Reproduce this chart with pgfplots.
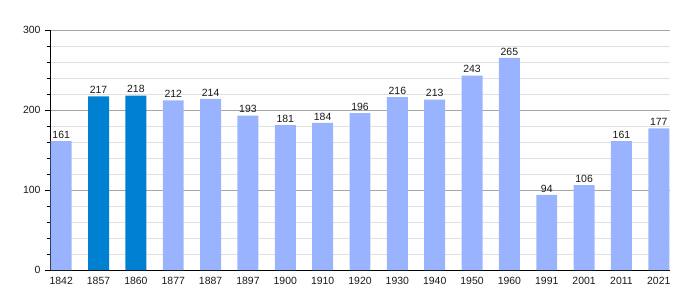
\documentclass[border=0pt]{standalone}
\usepackage{pgfplots}
\pgfplotsset{compat=1.18}
\usepackage{fontspec}
\setmainfont{Liberation Sans}
\definecolor{lightbar}{RGB}{153,179,255}
\definecolor{darkbar}{RGB}{0,128,208}
\begin{document}
\begin{tikzpicture}
\begin{axis}[
  name=ax,
  scale only axis,
  width=620bp, height=240bp,
  xmin=-0.3, xmax=16.3,
  ymin=0, ymax=300,
  axis x line*=bottom,
  axis y line*=left,
  axis line style={black, line width=0.8pt},
  xtick={0,...,16},
  xticklabels={1842,1857,1860,1877,1887,1897,1900,1910,1920,1930,1940,1950,1960,1991,2001,2011,2021},
  x tick style={draw=none},
  ytick={0,100,200,300},
  minor ytick={20,40,60,80,120,140,160,180,220,240,260,280},
  ymajorgrids, yminorgrids,
  major grid style={draw=black!35, line width=0.6pt},
  minor grid style={draw=black!12, line width=0.6pt},
  tick align=outside,
  major tick length=5bp,
  minor tick length=3bp,
  y tick style={black, line width=0.6pt},
  tick label style={font=\fontsize{10.5}{12}\selectfont, text=black!90},
  /pgf/number format/assume math mode=true,
  yticklabel style={xshift=-1bp},
  xticklabel style={yshift=1bp},
  ybar, bar width=0.56, bar shift=0pt,
  nodes near coords,
  every node near coord/.append style={font=\fontsize{10.5}{12}\selectfont, text=black!90, yshift=-1bp},
  clip=false,
]
\addplot[fill=lightbar, draw=none] coordinates {
(0,161) (3,212) (4,214) (5,193) (6,181) (7,184) (8,196) (9,216) (10,213) (11,243) (12,265) (13,94) (14,106) (15,161) (16,177)
};
\addplot[fill=darkbar, draw=none] coordinates {
(1,217) (2,218)
};
\coordinate (bl) at (rel axis cs:0,0);
\coordinate (tr) at (rel axis cs:1,1);
\end{axis}
\pgfresetboundingbox
\path ([xshift=-50bp,yshift=-30bp]bl) rectangle ([xshift=30bp,yshift=30bp]tr);
\end{tikzpicture}
\end{document}
